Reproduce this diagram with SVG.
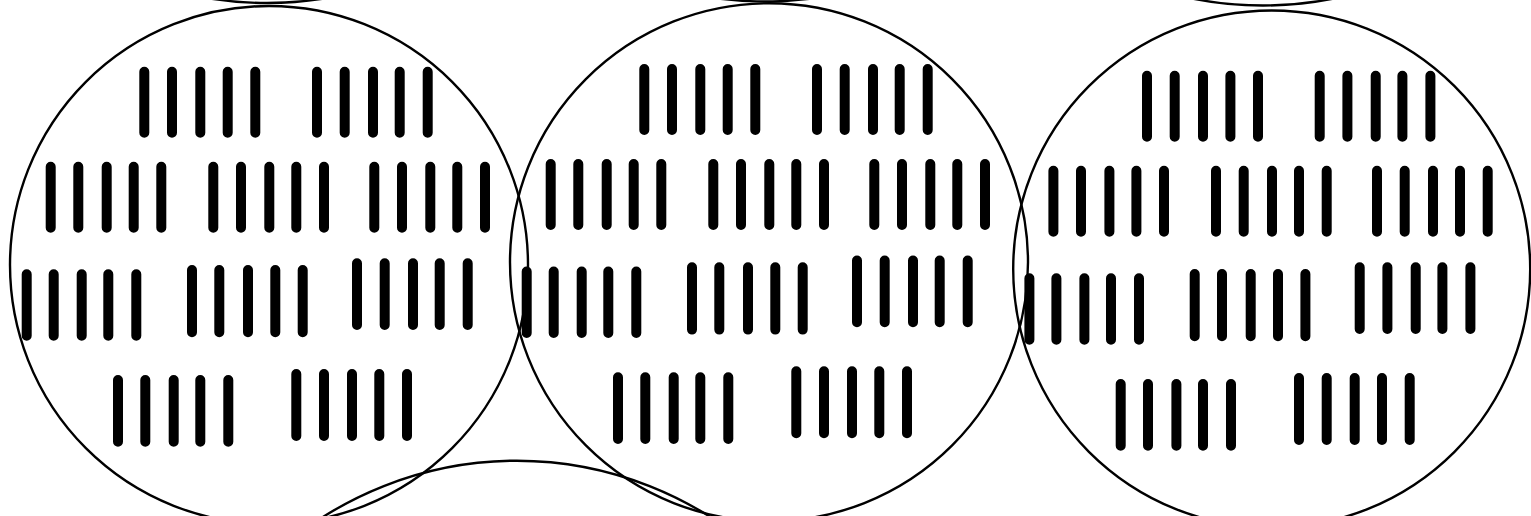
<svg xmlns="http://www.w3.org/2000/svg" xmlns:xlink="http://www.w3.org/1999/xlink" width="1531" height="516" viewBox="0 0 1531 516">
<style>
.ring{fill:none;stroke:#000;stroke-width:2.4}
.bar{fill:none;stroke:#000;stroke-width:10;stroke-linecap:round}
</style>
<defs>
<g id="tally">
<path class="bar" d="M144.3 71.7V132.7M172 71.7V132.7M200.3 71.7V132.7M227.7 71.7V132.7M255.3 71.7V132.7M317 71.7V132.7M344.7 71.7V132.7M373 71.7V132.7M399.7 71.7V132.7M427.7 71.7V132.7"/>
<path class="bar" d="M50.7 166.7V227.7M78.3 166.7V227.7M106.7 166.7V227.7M133.7 166.7V227.7M161.3 166.7V227.7M213.3 166.7V227.7M241 166.7V227.7M269.3 166.7V227.7M296.3 166.7V227.7M324 166.7V227.7M374.3 166.7V227.7M402 166.7V227.7M430.3 166.7V227.7M457.3 166.7V227.7M485 166.7V227.7"/>
<path class="bar" d="M26.7 274.3V335.7M53.7 274.3V335.7M81.7 274.3V335.7M108.3 274.3V335.7M136.3 274.3V335.7"/>
<path class="bar" d="M192 270V332.3M219.3 270V332.3M248 270V332.3M275.3 270V332.3M302.7 270V332.3"/>
<path class="bar" d="M357 263.3V325M384.7 263.3V325M413 263.3V325M439.7 263.3V325M467.7 263.3V325"/>
<path class="bar" d="M118 380V441.7M145.3 380V441.7M173.7 380V441.7M200.3 380V441.7M228.3 380V441.7"/>
<path class="bar" d="M296.3 374V436M324 374V436M352 374V436M379.3 374V436M407 374V436"/>
</g>
</defs>
<rect width="1531" height="516" fill="#fff"/>
<g id="circle-top-left"><circle class="ring" cx="267" cy="-358" r="361"/></g>
<g id="circle-top-middle"><circle class="ring" cx="765" cy="-359.5" r="361"/></g>
<g id="circle-top-right"><circle class="ring" cx="1263" cy="-355.5" r="361"/></g>
<g id="circle-1"><circle class="ring" cx="269" cy="265" r="259"/><use xlink:href="#tally"/></g>
<g id="circle-2"><circle class="ring" cx="769" cy="262.3" r="259"/><use xlink:href="#tally" transform="translate(500,-2.7)"/></g>
<g id="circle-3"><circle class="ring" cx="1271.7" cy="269" r="258.5"/><use xlink:href="#tally" transform="translate(1002.7,4)"/></g>
<g id="circle-bottom"><circle class="ring" cx="516.7" cy="821.7" r="361"/></g>
</svg>
